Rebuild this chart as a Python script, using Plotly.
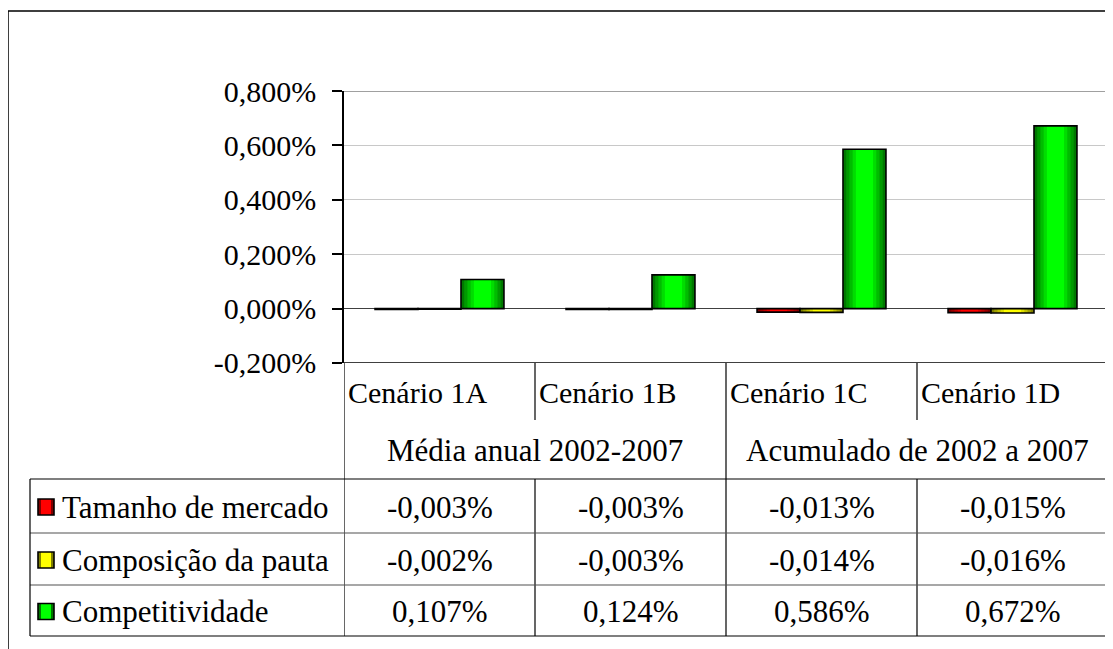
import plotly.graph_objects as go

# ---------------- data ----------------
categories = ["Cenário 1A", "Cenário 1B", "Cenário 1C", "Cenário 1D"]
group_labels = ["Média anual 2002-2007", "Acumulado de 2002 a 2007"]
series_names = ["Tamanho de mercado", "Composição da pauta", "Competitividade"]
tamanho_mercado = [-0.003, -0.003, -0.013, -0.015]
composicao_pauta = [-0.002, -0.003, -0.014, -0.016]
competitividade = [0.107, 0.124, 0.586, 0.672]
y_tick_values = [-0.2, 0.0, 0.2, 0.4, 0.6, 0.8]
y_tick_labels = ["-0,200%", "0,000%", "0,200%", "0,400%", "0,600%", "0,800%"]

series_values = [tamanho_mercado, composicao_pauta, competitividade]
bright_colors = ["#ff0000", "#ffff00", "#00ff00"]
dark_colors = ["#800000", "#808000", "#007800"]

# ---------------- geometry helpers ----------------
W, H = 1113, 649
OFF = 8  # page body margin
FAMILY = "Liberation Serif, Times New Roman, serif"


def px(x):
    return (x - OFF) / W


def py(y):
    return 1 - (y - OFF) / H


def hex2rgb(h):
    h = h.lstrip("#")
    return [int(h[i:i + 2], 16) for i in (0, 2, 4)]


def mix(c1, c2, t):
    a, b = hex2rgb(c1), hex2rgb(c2)
    return "rgb(%d,%d,%d)" % tuple(round(a[i] + (b[i] - a[i]) * t) for i in range(3))


fig = go.Figure()

bar_w = 0.225
centers = [-bar_w, 0.0, bar_w]
fracs = [1.0, 0.85, 0.7, 0.55, 0.4]

for s, vals in enumerate(series_values):
    c = centers[s]
    for k, f in enumerate(fracs):
        t = k / (len(fracs) - 1)
        bw = bar_w * f
        fig.add_trace(go.Bar(
            x=categories, y=vals, width=bw, offset=c - bw / 2,
            marker=dict(color=mix(dark_colors[s], bright_colors[s], t), line=dict(width=0)),
            showlegend=False, hoverinfo="skip", name=series_names[s]))
    fig.add_trace(go.Bar(
        x=categories, y=vals, width=bar_w, offset=c - bar_w / 2,
        marker=dict(color="rgba(0,0,0,0)", line=dict(color="black", width=1.6)),
        showlegend=False, name=series_names[s]))

PL, PR, PT, PB = 344, 1108, 91, 363
ROW_CAT_B = 420
TAB_T = 479
ROWS = [479, 533, 585, 636]
TAB_L = 30

shapes = []
black = dict(color="black", width=1.2)
# outer frame (right/bottom edges fall outside the image)
shapes.append(dict(type="rect", xref="paper", yref="paper", x0=px(8), x1=1.05,
                   y0=-0.05, y1=py(11), line=dict(color="black", width=1.5)))
# plot top/right borders (gray)
shapes.append(dict(type="line", xref="x", yref="y", x0=-0.5, x1=3.5, y0=0.8, y1=0.8,
                   line=dict(color="#808080", width=1.5)))
shapes.append(dict(type="line", xref="x", yref="y", x0=3.5, x1=3.5, y0=-0.2, y1=0.8,
                   line=dict(color="#808080", width=1.5)))
# bottom of plot area / table top
shapes.append(dict(type="line", xref="x", yref="y", x0=-0.5, x1=3.5, y0=-0.2, y1=-0.2,
                   line=dict(color="black", width=1.5)))
# left axis continued through table
shapes.append(dict(type="line", xref="x", yref="paper", x0=-0.5, x1=-0.5,
                   y0=py(ROWS[-1]), y1=py(PB), line=dict(color="black", width=1.2)))
# right table border
shapes.append(dict(type="line", xref="x", yref="paper", x0=3.5, x1=3.5,
                   y0=py(ROWS[-1]), y1=py(PB), line=dict(color="#404040", width=1.2)))
# category separators
for b in [0.5, 2.5]:
    shapes.append(dict(type="line", xref="x", yref="paper", x0=b, x1=b,
                       y0=py(ROW_CAT_B), y1=py(PB), line=black))
    shapes.append(dict(type="line", xref="x", yref="paper", x0=b, x1=b,
                       y0=py(ROWS[-1]), y1=py(TAB_T), line=black))
shapes.append(dict(type="line", xref="x", yref="paper", x0=1.5, x1=1.5,
                   y0=py(ROWS[-1]), y1=py(PB), line=black))
# horizontal table lines
for r, yy in enumerate(ROWS):
    shapes.append(dict(type="line", xref="paper", yref="paper", x0=px(TAB_L), x1=px(PR),
                       y0=py(yy), y1=py(yy),
                       line=dict(color="black" if r in (0, 3) else "#505050", width=1.2)))
shapes.append(dict(type="line", xref="paper", yref="paper", x0=px(TAB_L), x1=px(TAB_L),
                   y0=py(ROWS[-1]), y1=py(TAB_T), line=black))

annotations = []
f30 = dict(family=FAMILY, size=30, color="black")
f31 = dict(family=FAMILY, size=31, color="black")
# category labels
for i, cat in enumerate(categories):
    annotations.append(dict(x=i - 0.5, xref="x", y=py(392), yref="paper", text=cat,
                            showarrow=False, xanchor="left", yanchor="middle", xshift=2, font=f30))
# group labels
for g, lab in enumerate(group_labels):
    annotations.append(dict(x=0.5 + 2 * g, xref="x", y=py(450), yref="paper", text=lab,
                            showarrow=False, xanchor="center", yanchor="middle", font=f31))
# table rows
for s, vals in enumerate(series_values):
    yc = (ROWS[s] + ROWS[s + 1]) / 2 + 1
    kx0, kx1 = 38, 54
    ky0, ky1 = yc - 8, yc + 8
    shapes.append(dict(type="rect", xref="paper", yref="paper", x0=px(kx0), x1=px(kx1),
                       y0=py(ky1), y1=py(ky0), fillcolor=dark_colors[s], line=dict(width=0)))
    shapes.append(dict(type="rect", xref="paper", yref="paper", x0=px(kx0 + 3), x1=px(kx1 - 3),
                       y0=py(ky1), y1=py(ky0), fillcolor=bright_colors[s], line=dict(width=0)))
    shapes.append(dict(type="rect", xref="paper", yref="paper", x0=px(kx0), x1=px(kx1),
                       y0=py(ky1), y1=py(ky0), line=dict(color="black", width=1.6)))
    annotations.append(dict(x=px(60), xref="paper", y=py(yc), yref="paper", text=series_names[s],
                            showarrow=False, xanchor="left", yanchor="middle", font=f31))
    for i, v in enumerate(vals):
        txt = ("%.3f%%" % v).replace(".", ",")
        annotations.append(dict(x=i, xref="x", y=py(yc), yref="paper", text=txt,
                                showarrow=False, xanchor="center", yanchor="middle", font=f31))

fig.update_layout(
    width=W, height=H,
    margin=dict(l=0, r=0, t=0, b=0, pad=0),
    paper_bgcolor="white", plot_bgcolor="white",
    barmode="overlay", showlegend=False,
    font=f30,
    xaxis=dict(domain=[px(PL), px(PR)], type="category", range=[-0.5, 3.5], automargin=False,
               showticklabels=False, showgrid=False, zeroline=False, showline=False, ticks=""),
    yaxis=dict(domain=[py(PB), py(PT)], range=[-0.2001, 0.8001], automargin=False,
               tickvals=y_tick_values, ticktext=y_tick_labels,
               ticks="outside", ticklen=10, tickwidth=1.5, tickcolor="black",
               ticklabelstandoff=10,
               showline=True, linecolor="black", linewidth=1.5,
               showgrid=True, gridcolor="#c8c8c8", gridwidth=1,
               zeroline=True, zerolinecolor="#404040", zerolinewidth=1.2,
               tickfont=f30),
    shapes=shapes, annotations=annotations,
)

fig.write_html("out.html")
